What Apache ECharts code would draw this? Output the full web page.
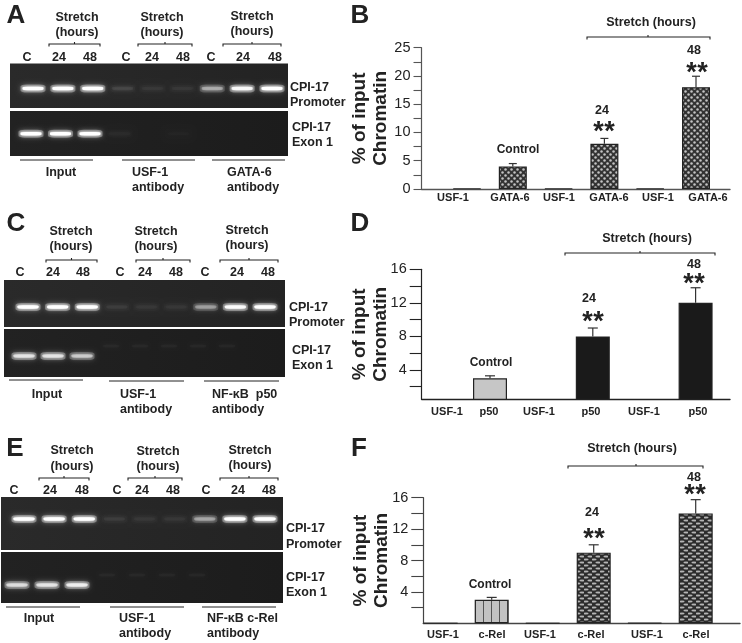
<!DOCTYPE html>
<html><head><meta charset="utf-8">
<style>html,body{margin:0;padding:0;background:#fff}#c{width:742px;height:643px}</style>
<script src="https://cdn.jsdelivr.net/npm/echarts@6/dist/echarts.min.js"></script>
</head><body><div id="c"></div>
<script>
// ---- data ----
const chartLabelsB = ['USF-1','GATA-6','USF-1','GATA-6','USF-1','GATA-6'];
const chartLabelsD = ['USF-1','p50','USF-1','p50','USF-1','p50'];
const chartLabelsF = ['USF-1','c-Rel','USF-1','c-Rel','USF-1','c-Rel'];
const valuesB = [0.1, 4, 0.1, 8, 0.1, 18];
const errTopB = [null, 4.5, null, 8.95, null, 19.95];
const valuesD = [0, 3, 0, 8, 0, 12];
const errTopD = [null, 3.3, null, 9, null, 13.8];
const valuesF = [0.03, 3, 0.03, 9, 0.06, 14];
const errTopF = [null, 3.3, null, 10, null, 15.75];
const ticksB = [0,2.5,5,7.5,10,12.5,15,17.5,20,22.5,25];
const tickLabelsB = [0,5,10,15,20,25];
const ticksDF = [2,4,6,8,10,12,14,16];
const tickLabelsDF = [4,8,12,16];
const laneLabels = ['C','24','48','C','24','48','C','24','48'];
const promoterA = [1,1,1,0.06,0.03,0.03,0.32,0.85,1];
const exonA     = [1,1,1,0.02,0,0.01,0,0,0];
const promoterC = [1,1,1,0.04,0.03,0.03,0.28,0.9,1];
const exonC     = [0.6,0.6,0.45,0,0,0,0,0,0];
const promoterE = [1,1,1,0.04,0.03,0.03,0.3,1,1];
const exonE     = [0.55,0.6,0.7,0,0,0,0,0,0];
const smearC    = [0,0,0,0.02,0.02,0.02,0.02,0.02,0];
const smearE    = [0,0,0,0.02,0.02,0.02,0.02,0,0];

// ---- styling / layout ----
const INK='#222', FF='"Liberation Sans",Arial,sans-serif';
function tile(w,h,draw){const c=document.createElement('canvas');c.width=w;c.height=h;draw(c.getContext('2d'));return {image:c,repeat:'repeat'};}
const checker = tile(6,6,g=>{g.fillStyle='#333';g.fillRect(0,0,6,6);g.fillStyle='#c4c4c4';
  [[1.5,1.5],[4.5,4.5]].forEach(p=>{g.beginPath();g.arc(p[0],p[1],1.25,0,7);g.fill();});});
const lens = tile(8,6,g=>{g.fillStyle='#2c2c2c';g.fillRect(0,0,8,6);g.fillStyle='#b4b4b4';
  [[2,1.5],[6,4.5]].forEach(p=>{g.beginPath();g.ellipse(p[0],p[1],2.6,0.95,0,0,7);g.fill();});});
const stripes = tile(8,2,g=>{g.fillStyle='#c2c2c2';g.fillRect(0,0,8,2);g.fillStyle='#555';g.fillRect(3,0,1,2);});

const grids=[],xAxes=[],yAxes=[],series=[],graphic=[];
function txt(s,x,y,o){o=o||{};const a=o.align||'center';
  graphic.push({type:'text',z:50,style:{text:s,x,y,fill:o.fill||INK,font:(o.w||'bold')+' '+(o.size||12.5)+'px '+(o.ff||FF),
    align:a,verticalAlign:'middle',textAlign:a,textVerticalAlign:'middle'}});}
function line(pts,w,col){graphic.push({type:'polyline',z:50,shape:{points:pts},style:{stroke:col||INK,fill:null,lineWidth:w||1}});}
function bracket(x0,x1,y,mid){const m=mid===undefined?(x0+x1)/2:mid;
  line([[x0,y+2.5],[x0,y],[x1,y],[x1,y+2.5]],1.1);line([[m,y],[m,y-2]],1.1);}

// gel grid: lanes 0-8 on a hidden value axis, band row at y value 0
function gel(x0,x1,y0,y1,first,last,bandY,vals,bg,smear,smearY){
  const idx=grids.length, step=(last-first)/8;
  grids.push({left:x0,top:y0,width:x1-x0,height:y1-y0,show:true,borderWidth:0,backgroundColor:bg});
  xAxes.push({gridIndex:idx,type:'value',show:false,min:(x0-first)/step,max:(x1-first)/step});
  yAxes.push({gridIndex:idx,type:'value',show:false,min:bandY-y1,max:bandY-y0});
  const pts=vals.map((v,i)=>[i,0,v]).filter(p=>p[2]>0);
  series.push({type:'scatter',xAxisIndex:idx,yAxisIndex:idx,silent:true,symbol:'roundRect',symbolSize:[25,8],
    data:pts.map(p=>({value:p,itemStyle:{opacity:0.34*Math.min(1,p[2]*1.6)}})),
    itemStyle:{color:'#e8e8e8',shadowBlur:5,shadowColor:'#ddd'}});
  series.push({type:'scatter',xAxisIndex:idx,yAxisIndex:idx,silent:true,symbol:'roundRect',symbolSize:[21,3.4],
    data:pts.map(p=>({value:p,itemStyle:{opacity:p[2]}})),
    itemStyle:{color:'#fff',shadowBlur:3,shadowColor:'#fff'}});
  if(smear){
    series.push({type:'scatter',xAxisIndex:idx,yAxisIndex:idx,silent:true,symbol:'roundRect',symbolSize:[16,3],
      data:smear.map((v,i)=>[i,smearY-bandY,v]).filter(p=>p[2]>0).map(p=>({value:p,itemStyle:{opacity:p[2]*2}})),
      itemStyle:{color:'#aaa',shadowBlur:3,shadowColor:'#aaa'}});
  }
}
const bgTop={type:'linear',x:0,y:0,x2:1,y2:0,colorStops:[{offset:0,color:'#2a2a2a'},{offset:1,color:'#232323'}]};
const bgBot={type:'linear',x:0,y:0,x2:1,y2:0,colorStops:[{offset:0,color:'#222'},{offset:1,color:'#1c1c1c'}]};
gel(10,288,63.5,108,33,272,88.5,promoterA,bgTop);
gel(10,288,111,156,31,267,133.7,exonA,bgBot);
gel(4,285,280,327,28,265,307,promoterC,bgTop);
gel(4,285,329,377,24,256,356,exonC,bgBot,smearC,366);
gel(1,283,497,550,24,265,519,promoterE,bgTop);
gel(1,283,552,603,17,257,585,exonE,bgBot,smearE,595);

// bar chart grid
function barChart(o){
  const idx=grids.length;
  grids.push({left:o.left,top:o.top,width:o.right-o.left,height:o.bottom-o.top,show:false});
  xAxes.push({gridIndex:idx,type:'value',min:(o.left-o.c0)/o.slot,max:(o.right-o.c0)/o.slot,
    axisLine:{show:true,onZero:false,lineStyle:{color:o.axis,width:1.4}},axisTick:{show:false},axisLabel:{show:false},splitLine:{show:false}});
  yAxes.push({gridIndex:idx,type:'value',min:o.min,max:o.max,
    name:'% of input\nChromatin',nameLocation:'middle',nameRotate:90,nameGap:o.nameGap,nameMoveOverlap:false,
    nameTextStyle:{fontFamily:FF,fontWeight:'bold',fontSize:19,lineHeight:21,color:INK},
    axisLine:{show:true,onZero:false,lineStyle:{color:o.axis,width:1.2}},
    axisTick:{show:true,length:o.tick,customValues:o.ticks,lineStyle:{color:o.axis,width:1.1}},
    axisLabel:{show:true,customValues:o.labels,margin:o.tick+3,fontFamily:FF,fontSize:14.5,color:INK},
    splitLine:{show:false}});
  series.push({type:'bar',xAxisIndex:idx,yAxisIndex:idx,barWidth:o.barW,silent:true,
    data:o.values.map((v,i)=>({value:[i,v],itemStyle:{color:o.fills[i],borderColor:INK,borderWidth:v>0.5?1.2:0.6}}))});
  series.push({type:'custom',xAxisIndex:idx,yAxisIndex:idx,silent:true,
    data:o.errs.map((e,i)=>[i,o.values[i],e]).filter(d=>d[2]!==null),
    renderItem:(p,api)=>{const a=api.coord([api.value(0),api.value(1)]),b=api.coord([api.value(0),api.value(2)]);
      const st={stroke:'#333',lineWidth:1.2,fill:null};
      return {type:'group',children:[
        {type:'line',shape:{x1:a[0],y1:a[1],x2:b[0],y2:b[1]},style:st},
        {type:'line',shape:{x1:a[0]-o.cap,y1:b[1],x2:a[0]+o.cap,y2:b[1]},style:st}]};}});
  o.names.forEach((s,i)=>txt(s,o.labelX[i],o.labelY,{size:11}));
}
barChart({left:421.5,right:730,top:47.7,bottom:189,min:0,max:25,c0:467,slot:45.8,barW:28,tick:8,cap:4,axis:'#555',nameGap:30,
  ticks:ticksB,labels:tickLabelsB,values:valuesB,errs:errTopB,names:chartLabelsB,
  fills:[INK,checker,INK,checker,INK,checker],labelX:[453,510,559,609,658,708],labelY:198});
barChart({left:421.7,right:730,top:269.3,bottom:399.3,min:0.5,max:16,c0:438.6,slot:51.4,barW:34,tick:12,cap:5,axis:'#222',nameGap:30,
  ticks:ticksDF,labels:tickLabelsDF,values:valuesD,errs:errTopD,names:chartLabelsD,
  fills:[INK,'#c6c6c6',INK,'#1a1a1a',INK,'#1a1a1a'],labelX:[447,489,539,591,644,698],labelY:412});
barChart({left:423.3,right:740,top:497.7,bottom:623.3,min:0,max:16,c0:440.7,slot:51,barW:34,tick:12,cap:5,axis:'#444',nameGap:31,
  ticks:ticksDF,labels:tickLabelsDF,values:valuesF,errs:errTopF,names:chartLabelsF,
  fills:[INK,stripes,INK,lens,INK,lens],labelX:[443,492,540,591,647,696],labelY:635});

// panel letters
[['A',16,16],['C',16,224],['E',15,449]].forEach(l=>txt(l[0],l[1],l[2],{size:26}));
[['B',360,16],['D',360,224],['F',359,449]].forEach(l=>txt(l[0],l[1],l[2],{size:26}));

// gel annotations
function stretch(x,y1,y2){txt('Stretch',x,y1);txt('(hours)',x,y2);}
function laneRow(xs,y){laneLabels.forEach((s,i)=>txt(s,xs[i],y));}
stretch(77,18,33);stretch(162,18,33);stretch(252,17,32);
bracket(49,100,44);bracket(138,192,44);bracket(223,281,44);
laneRow([27,59,90,126,152,183,211,243,275],58);
txt('CPI-17',290,88,{align:'left'});txt('Promoter',290,103,{align:'left'});
txt('CPI-17',292,128,{align:'left'});txt('Exon 1',292,143,{align:'left'});
line([[20,160],[93,160]]);line([[122,160],[195,160]]);line([[212,160],[285,160]]);
txt('Input',61,173);txt('USF-1',132,173,{align:'left'});txt('antibody',132,188,{align:'left'});
txt('GATA-6',227,173,{align:'left'});txt('antibody',227,188,{align:'left'});

stretch(71,232,247);stretch(156,232,247);stretch(247,231,246);
bracket(46,97,260);bracket(136,190,260);bracket(220,278,260);
laneRow([20,53,83,120,145,176,205,237,268],273);
txt('CPI-17',289,308,{align:'left'});txt('Promoter',289,323,{align:'left'});
txt('CPI-17',292,351,{align:'left'});txt('Exon 1',292,366,{align:'left'});
line([[9,380],[83,380]]);line([[109,381],[184,381]]);line([[204,381],[279,381]]);
txt('Input',47,395);txt('USF-1',120,395,{align:'left'});txt('antibody',120,410,{align:'left'});
txt('NF-\u03baB  p50',212,395,{align:'left'});txt('antibody',212,410,{align:'left'});

stretch(72,451,467);stretch(158,452,467);stretch(250,451,466);
bracket(39,89,478);bracket(128,182,478);bracket(220,278,478);
laneRow([14,50,82,117,142,173,206,238,269],491);
txt('CPI-17',286,529,{align:'left'});txt('Promoter',286,545,{align:'left'});
txt('CPI-17',286,578,{align:'left'});txt('Exon 1',286,593,{align:'left'});
line([[6,607],[80,607]]);line([[110,607],[184,607]]);line([[202,607],[276,607]]);
txt('Input',39,619);txt('USF-1',119,619,{align:'left'});txt('antibody',119,634,{align:'left'});
txt('NF-\u03baB c-Rel',207,619,{align:'left'});txt('antibody',207,634,{align:'left'});

// chart annotations
function stars(x,y){txt('*',x-5.5,y+6,{size:27});txt('*',x+5.5,y+6,{size:27});}
txt('Stretch (hours)',651,23);bracket(587,710,37,648);
txt('48',694,51);stars(697,68);txt('24',602,111);stars(604,127);txt('Control',518,150,{size:12});

txt('Stretch (hours)',647,239);bracket(565,715,253,640);
txt('48',694,265);stars(694,279);txt('24',589,299);stars(593,317);txt('Control',491,363,{size:12});

txt('Stretch (hours)',632,449);bracket(568,703,466,636);
txt('48',694,478);stars(695,490);txt('24',592,513);stars(594,534);txt('Control',490,585,{size:12});

const chart=echarts.init(document.getElementById('c'),null,{renderer:'canvas'});
chart.setOption({animation:false,backgroundColor:'#fff',grid:grids,xAxis:xAxes,yAxis:yAxes,series,graphic:{elements:graphic}});
</script></body></html>
